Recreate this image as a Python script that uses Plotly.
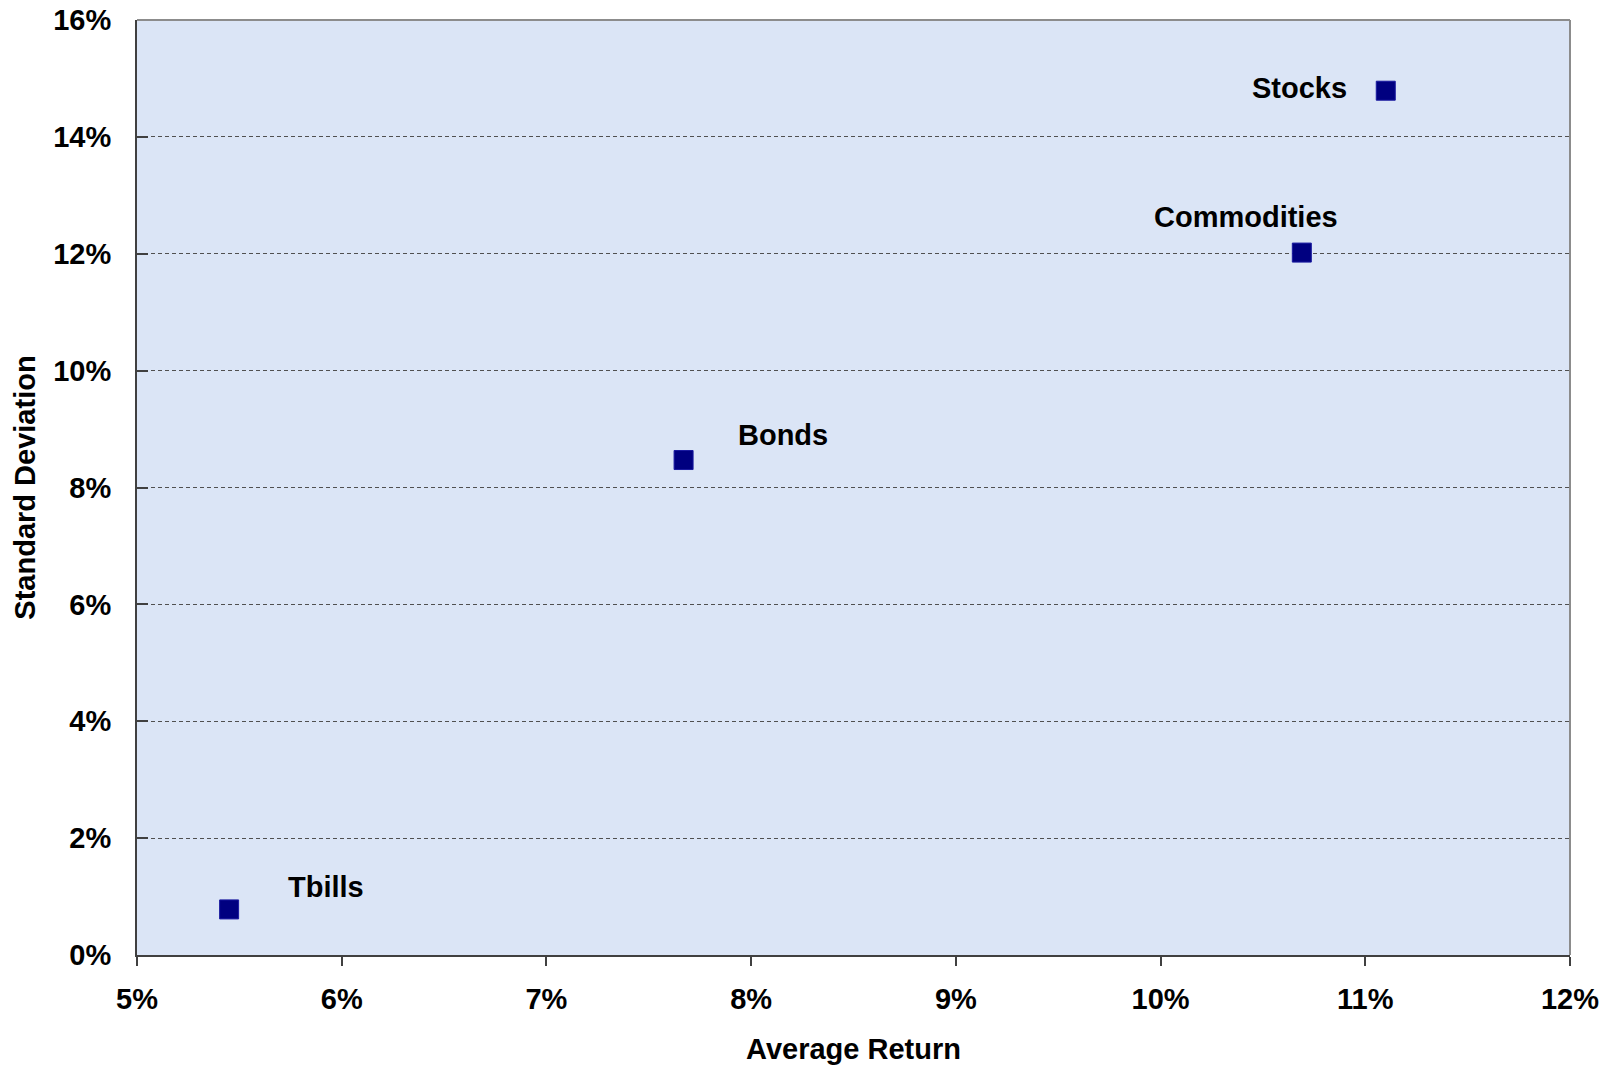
import plotly.graph_objects as go

# Asset classes: average return vs. standard deviation (both in %)
assets = ["Tbills", "Bonds", "Commodities", "Stocks"]
avg_return = [5.45, 7.67, 10.69, 11.10]
std_dev = [0.78, 8.47, 12.02, 14.79]

x_ticks = [5, 6, 7, 8, 9, 10, 11, 12]
y_ticks = [0, 2, 4, 6, 8, 10, 12, 14, 16]

# label placement relative to each marker (pixels)
label_pos = {
    "Tbills": dict(xanchor="left", xshift=57, yshift=22),
    "Bonds": dict(xanchor="left", xshift=52, yshift=25),
    "Commodities": dict(xanchor="center", xshift=-56, yshift=36),
    "Stocks": dict(xanchor="right", xshift=-37, yshift=3),
}

FONT = "Liberation Sans, Arial, sans-serif"

fig = go.Figure()
fig.add_trace(go.Scatter(
    x=avg_return, y=std_dev, mode="markers",
    marker=dict(symbol="square", size=19, color="#000080",
                line=dict(color="#1a1aa0", width=1)),
    hoverinfo="skip", showlegend=False,
))

for name, xv, yv in zip(assets, avg_return, std_dev):
    p = label_pos[name]
    fig.add_annotation(
        x=xv, y=yv, text=f"<b>{name}</b>", showarrow=False,
        xanchor=p["xanchor"], yanchor="middle",
        xshift=p["xshift"], yshift=p["yshift"],
        font=dict(family=FONT, size=29, color="#000000"),
    )

fig.update_layout(
    width=1611, height=1065,
    margin=dict(l=137, r=41, t=20, b=110),
    paper_bgcolor="white",
    plot_bgcolor="#dbe5f6",
    font=dict(family=FONT, color="#000000"),
    xaxis=dict(
        range=[5, 12], tickvals=x_ticks,
        ticktext=[f"<b>{v}%</b>" for v in x_ticks],
        tickfont=dict(size=29, family=FONT),
        ticks="outside", ticklen=9, tickcolor="#404040", tickwidth=1.5,
        ticklabelstandoff=8,
        showline=True, linecolor="#404040", linewidth=2,
        showgrid=False, zeroline=False, mirror=False,
        automargin=False,
        title=dict(text="<b>Average Return</b>",
                   font=dict(size=29, family=FONT), standoff=34),
    ),
    yaxis=dict(
        range=[0, 16], tickvals=y_ticks,
        ticktext=[f"<b>{v}%</b>" for v in y_ticks],
        tickfont=dict(size=29, family=FONT),
        ticks="inside", ticklen=11, tickcolor="#404040", tickwidth=1.5,
        ticklabelstandoff=18,
        showline=True, linecolor="#404040", linewidth=2,
        showgrid=True, gridcolor="#505050", griddash="4px,3px", gridwidth=1,
        zeroline=False, automargin=False,
        title=dict(text="<b>Standard Deviation</b>",
                   font=dict(size=29, family=FONT), standoff=9),
    ),
)

# light gray frame on the top and right of the plotting area
fig.add_shape(type="line", xref="paper", yref="paper", x0=0, x1=1, y0=1, y1=1,
              line=dict(color="#8c8c8c", width=2))
fig.add_shape(type="line", xref="paper", yref="paper", x0=1, x1=1, y0=0, y1=1,
              line=dict(color="#8c8c8c", width=2))

fig.write_html("out.html")
